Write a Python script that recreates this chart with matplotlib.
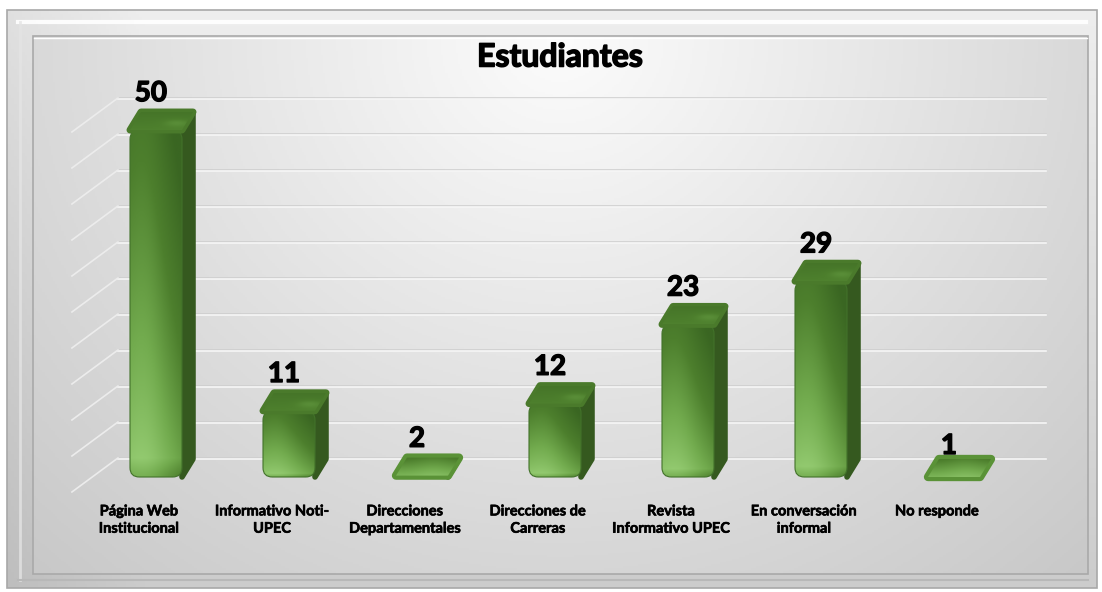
import os
import numpy as np
import matplotlib
matplotlib.use("Agg")
import matplotlib.pyplot as plt
import matplotlib.transforms as mtransforms
import matplotlib.patheffects as pe
from matplotlib import font_manager as fm
from matplotlib.patches import Rectangle, FancyBboxPatch, Polygon
from matplotlib.colors import LinearSegmentedColormap

# Datos
categorias = ["Página Web\nInstitucional", "Informativo Noti-\nUPEC",
              "Direcciones\nDepartamentales", "Direcciones de\nCarreras",
              "Revista\nInformativo UPEC", "En conversación\ninformal",
              "No responde"]
valores = [50, 11, 2, 12, 23, 29, 1]
titulo = "Estudiantes"
lineas_guia = np.arange(0, 55, 5)


def archivo_negrita():
    # busca un archivo de fuente negrita (Lato se parece a Calibri)
    for nombre in ['Lato', 'Open Sans', 'Noto Sans', 'Liberation Sans']:
        for f in fm.fontManager.ttflist:
            base = os.path.basename(f.fname).lower()
            if f.name == nombre and 'bold' in base and 'italic' not in base \
                    and 'semi' not in base and 'extra' not in base:
                return f.fname
    return None


ruta = archivo_negrita()
if ruta:
    def fp(size):
        return fm.FontProperties(fname=ruta, size=size)
else:
    def fp(size):
        return fm.FontProperties(family='DejaVu Sans', weight='bold', size=size)


def grueso(lw):
    return [pe.withStroke(linewidth=lw, foreground='black')]


W, H = 1102, 592
fig = plt.figure(figsize=(W / 100, H / 100), dpi=100)
fig.patch.set_facecolor('white')

# Fondo (marco biselado y panel con degradado), en pixeles
bg = fig.add_axes([0, 0, 1, 1])
bg.set_xlim(0, W)
bg.set_ylim(H, 0)
bg.axis('off')

gy, gx = np.mgrid[0:1:200j, 0:1:400j]
marco = 238 - 34 * gy - 14 * np.clip(1 - gx * 8, 0, 1)
bg.imshow(np.dstack([marco] * 3).astype(np.uint8), extent=(7, 1097, 588, 10),
          aspect='auto', interpolation='bilinear', zorder=0)
bg.add_patch(Rectangle((7, 10), 1090, 578, fill=False, ec='#a8a8a8', lw=1.2, zorder=1))
bg.plot([18, 1086], [22, 22], color='white', lw=3, alpha=0.9, zorder=1)
bg.plot([20, 20], [22, 580], color='#e4e4e4', lw=2, alpha=0.8, zorder=1)
bg.plot([18, 1088], [580, 580], color='#b8b8b8', lw=1.5, zorder=1)

py, px = np.mgrid[36:574:300j, 33:1088:500j]
d = np.sqrt(((px - 560) / 600) ** 2 + ((py - 40) / 560) ** 2)
panel = np.clip(252 - 40 * d, 180, 252)
bg.imshow(np.dstack([panel] * 3).astype(np.uint8), extent=(33, 1088, 574, 36),
          aspect='auto', interpolation='bilinear', zorder=2)
bg.add_patch(Rectangle((33, 36), 1055, 538, fill=False, ec='#a9a9a9', lw=1.2, zorder=3))
bg.plot([34, 1087], [37.5, 37.5], color='white', lw=1, zorder=3)

# Ejes principales: 1 unidad = 7.2 px en y, 133 px por categoria
ax = fig.add_axes([56.25 / W, (H - 533.2) / H, 997.5 / W, 475.2 / H])
ax.axis('off')

W_BAR = 52 / 133
DX = 11 / 133
DY = 18 / 7.2
PISO = 13 / 7.2

# lineas de la pared del fondo
tr_guia = mtransforms.offset_copy(ax.transData, fig=fig, x=0, y=32, units='dots')
tr_guia2 = mtransforms.offset_copy(ax.transData, fig=fig, x=0, y=30.8, units='dots')
for g in lineas_guia:
    ax.plot([-0.286, 6.69], [g, g], color='#cdcdcd', lw=1.1, transform=tr_guia, zorder=2)
    ax.plot([-0.286, 6.69], [g, g], color='#f6f6f6', lw=1.2, transform=tr_guia2, zorder=2)
    ax.plot([-0.632, -0.286], [g - 4.72, g], color='#ececec', lw=1.2,
            transform=tr_guia, zorder=2)

verde = LinearSegmentedColormap.from_list('verde', ['#3a6622', '#4d7f2d', '#72ab4e', '#96cd73'])
sombra = '#35591f'

barras = ax.bar(np.arange(len(valores)), valores, width=W_BAR, alpha=0)
for i, (rect, v) in enumerate(zip(barras, valores)):
    x0, w = rect.get_x(), rect.get_width()
    t = max(rect.get_height(), PISO)
    x1 = x0 + w
    plana = t - PISO <= 1.5

    # cara lateral
    lado = Polygon([(x1, PISO), (x1 + DX, PISO + DY), (x1 + DX, t + DY), (x1, t)],
                   closed=True, fc=sombra, ec=sombra, lw=4, joinstyle='round', zorder=4)
    ax.add_patch(lado)

    # cara frontal con degradado (claro abajo, oscuro arriba)
    if not plana:
        frente = FancyBboxPatch((x0, PISO), w, t - PISO,
                                boxstyle='round,pad=0,rounding_size=0.07',
                                mutation_aspect=133 / 7.2, fc='none', ec='#42722a',
                                lw=0.8, zorder=6)
        ax.add_patch(frente)
        fy, fx = np.mgrid[0:1:100j, 0:1:60j]
        luz = 0.95 - 0.75 * fy ** 0.8 - 0.3 * fx ** 2 + 0.1 * np.exp(-((fx - 0.3) ** 2) * 8)
        luz = luz - 0.3 * np.clip((0.05 - fy) * 20, 0, 1)
        im = ax.imshow(np.clip(luz, 0, 1), cmap=verde, vmin=0, vmax=1,
                       extent=(x0, x1, PISO, t), origin='lower', aspect='auto',
                       interpolation='bilinear', zorder=5)
        im.set_clip_path(frente)

    # cara superior
    arriba = Polygon([(x0, t), (x1, t), (x1 + DX, t + DY), (x0 + DX, t + DY)],
                     closed=True, fc='none', ec='#4a7a2b', lw=5, joinstyle='round', zorder=7)
    ax.add_patch(arriba)
    ty, tx = np.mgrid[0:1:40j, 0:1:60j]
    luz_top = 0.35 - 0.15 * ty + 0.15 * np.exp(-((tx - 0.75) ** 2 + (ty - 0.4) ** 2) * 20)
    if plana:
        luz_top = 0.75 - 0.5 * ty + 0.1 * np.exp(-((tx - 0.6) ** 2) * 10)
        arriba.set_edgecolor('#5a9237')
        arriba.set_linewidth(6)
    imt = ax.imshow(luz_top, cmap=verde, vmin=0, vmax=1,
                    extent=(x0, x1 + DX, t, t + DY), origin='lower', aspect='auto',
                    interpolation='bilinear', zorder=7)
    imt.set_clip_path(arriba)

    # etiquetas
    ax.text(i - 0.038, v + DY + 1.5, str(v), ha='center', va='baseline',
            fontproperties=fp(20), color='black', zorder=8, path_effects=grueso(1.0))
    ax.text(i - 0.128, -2.0, categorias[i], ha='center', va='top',
            fontproperties=fp(10.5), color='black', linespacing=1.3, zorder=8,
            path_effects=grueso(0.45))

ax.set_xlim(-0.75, 6.75)
ax.set_ylim(-6, 60)

fig.text(560 / W, 1 - 57 / H, titulo, ha='center', va='center',
         fontproperties=fp(23), color='black', path_effects=grueso(1.1))

fig.savefig('out.png', dpi=100)
